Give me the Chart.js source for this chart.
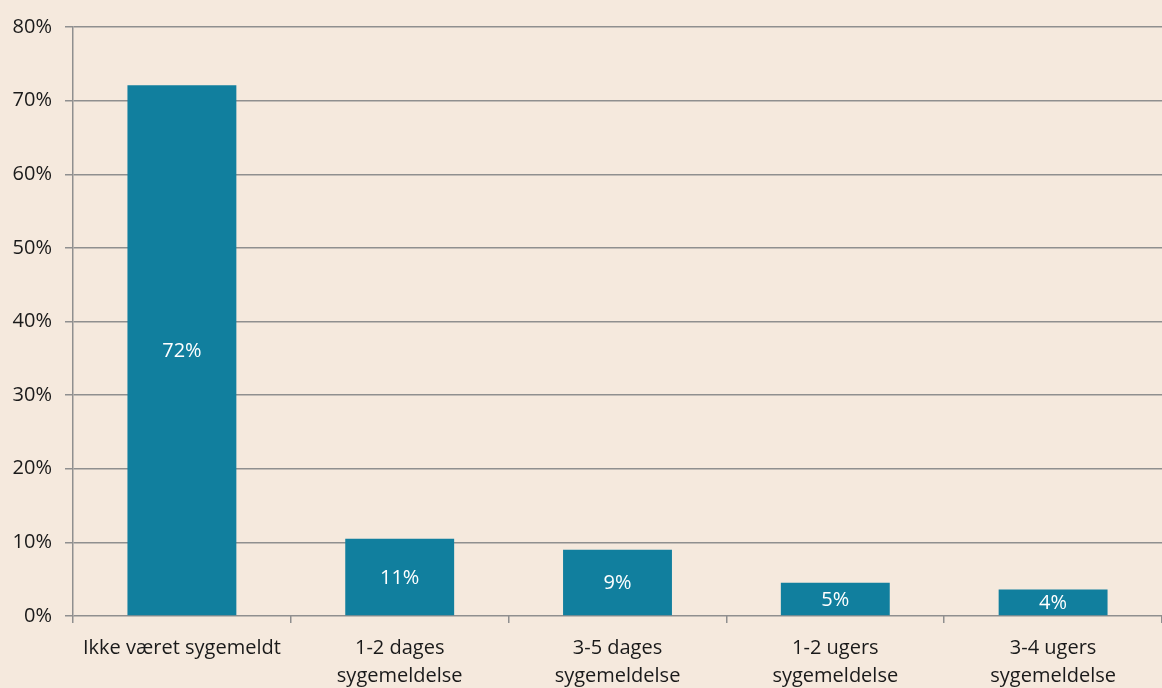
<!DOCTYPE html>
<html>
<head>
<meta charset="utf-8">
<script src="https://cdn.jsdelivr.net/npm/chart.js@4"></script>
<style>
  html, body { margin: 0; padding: 0; background: #F5E9DD; }
  #wrap { width: 1162px; height: 688px; }
</style>
</head>
<body>
<div id="wrap"><canvas id="chart"></canvas></div>
<script>
// Data
const categories = [
    'Ikke været sygemeldt',
    ['1-2 dages', 'sygemeldelse'],
    ['3-5 dages', 'sygemeldelse'],
    ['1-2 ugers', 'sygemeldelse'],
    ['3-4 ugers', 'sygemeldelse']
];
const shares = [72.1, 10.5, 9.0, 4.5, 3.6];
const shareLabels = ['72%', '11%', '9%', '5%', '4%'];
const yTicks = [0, 10, 20, 30, 40, 50, 60, 70, 80];

const fontFamily = '"Open Sans", "Noto Sans", sans-serif';
const gridColor = '#8f8f8f';

// Labels inside the bars (no datalabels plugin offline)
const barLabels = {
    id: 'barLabels',
    afterDatasetsDraw(chart) {
        const { ctx } = chart;
        const meta = chart.getDatasetMeta(0);
        ctx.save();
        ctx.fillStyle = '#ffffff';
        ctx.font = '20px ' + fontFamily;
        ctx.textAlign = 'center';
        ctx.textBaseline = 'middle';
        meta.data.forEach((bar, i) => {
            const y = (bar.y + bar.base) / 2 + 1;
            ctx.fillText(shareLabels[i], bar.x, y);
        });
        ctx.restore();
    }
};

const ctx = document.getElementById('chart').getContext('2d');
const chart = new Chart(ctx, {
    type: 'bar',
    data: {
        labels: categories,
        datasets: [{
            data: shares,
            backgroundColor: '#117F9E',
            barPercentage: 0.5,
            categoryPercentage: 1.0
        }]
    },
    options: {
        responsive: true,
        maintainAspectRatio: false,
        animation: false,
        layout: { padding: { top: 27, right: 0, bottom: 0, left: 0 } },
        plugins: {
            legend: { display: false },
            tooltip: { enabled: false }
        },
        scales: {
            x: {
                afterFit(axis) { axis.height = 72; },
                grid: {
                    offset: true,
                    drawOnChartArea: false,
                    drawTicks: true,
                    tickLength: 7,
                    color: gridColor,
                    lineWidth: 1.5
                },
                border: { display: false },
                ticks: {
                    color: '#1a1a1a',
                    font: { family: fontFamily, size: 20, lineHeight: 1.4 },
                    padding: 11,
                    maxRotation: 0,
                    autoSkip: false
                }
            },
            y: {
                min: 0,
                max: 80,
                afterFit(axis) { axis.width = 73; },
                afterBuildTicks(axis) {
                    axis.ticks = yTicks.map(v => ({ value: v }));
                },
                grid: {
                    color: gridColor,
                    lineWidth: 1.5,
                    tickLength: 8
                },
                border: { display: true, color: gridColor, width: 1.5 },
                ticks: {
                    color: '#1a1a1a',
                    font: { family: fontFamily, size: 20 },
                    padding: 13,
                    callback: v => v + '%'
                }
            }
        }
    },
    plugins: [barLabels]
});
</script>
</body>
</html>
